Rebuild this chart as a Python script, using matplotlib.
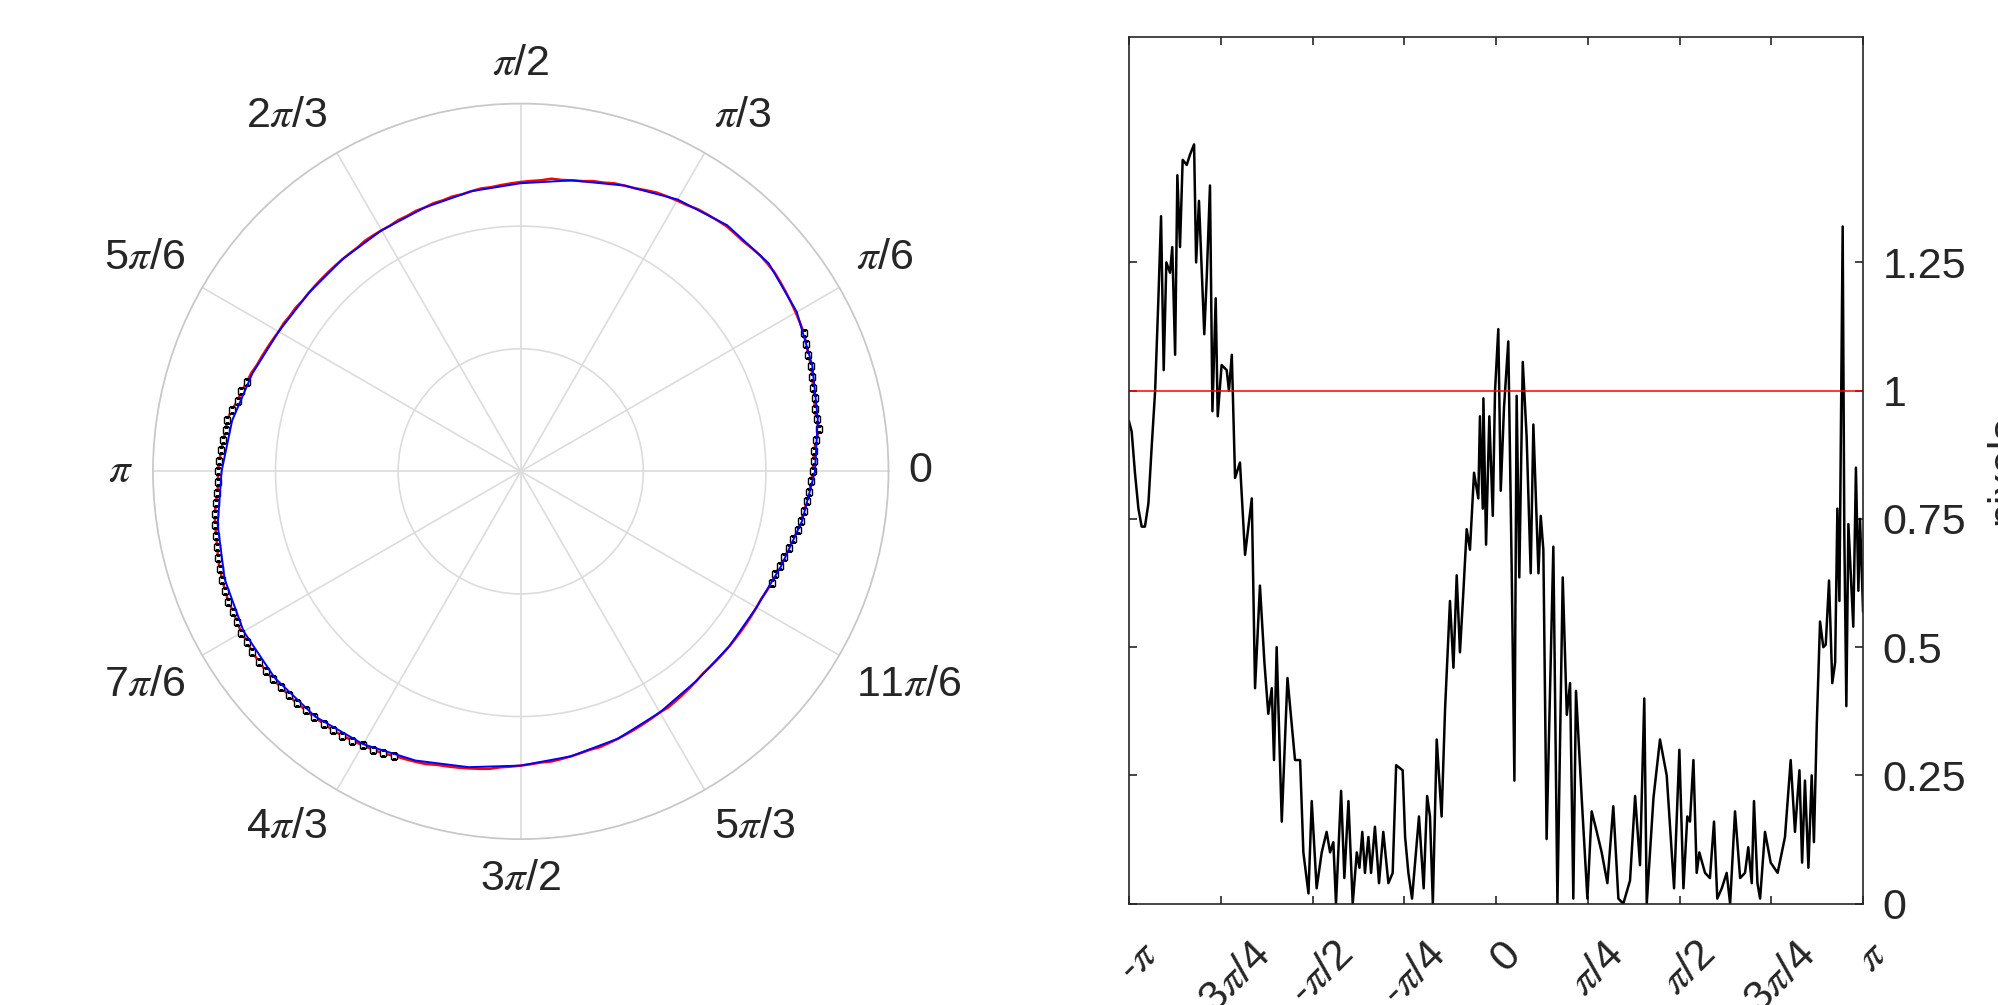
import numpy as np
import matplotlib
matplotlib.use('Agg')
import matplotlib.pyplot as plt
from matplotlib.transforms import offset_copy, blended_transform_factory

plt.rcParams['font.family'] = ['Liberation Sans', 'DejaVu Sans']
plt.rcParams['mathtext.fontset'] = 'stix'

# ---------------- polar data (radius units: outer ring = 3) ----------------
polar_theta_deg = list(range(0, 360, 2))
polar_r_data = [
    2.38, 2.39, 2.40, 2.42, 2.46, 2.45, 2.45, 2.47, 2.48, 2.50,
    2.52, 2.53, 2.55, 2.57, 2.58, 2.59, 2.60, 2.61, 2.62, 2.63,
    2.63, 2.63, 2.62, 2.61, 2.61, 2.61, 2.60, 2.59, 2.58, 2.56,
    2.55, 2.54, 2.53, 2.51, 2.49, 2.48, 2.47, 2.45, 2.44, 2.42,
    2.41, 2.40, 2.40, 2.38, 2.37, 2.36, 2.35, 2.34, 2.33, 2.33,
    2.32, 2.31, 2.31, 2.30, 2.30, 2.29, 2.29, 2.28, 2.28, 2.27,
    2.27, 2.27, 2.27, 2.26, 2.26, 2.26, 2.26, 2.26, 2.26, 2.26,
    2.26, 2.26, 2.27, 2.27, 2.28, 2.28, 2.29, 2.30, 2.31, 2.32,
    2.34, 2.35, 2.37, 2.38, 2.41, 2.43, 2.43, 2.44, 2.45, 2.46,
    2.47, 2.47, 2.48, 2.50, 2.52, 2.53, 2.54, 2.55, 2.57, 2.58,
    2.59, 2.60, 2.61, 2.61, 2.62, 2.63, 2.63, 2.64, 2.64, 2.64,
    2.64, 2.63, 2.63, 2.63, 2.62, 2.62, 2.61, 2.61, 2.60, 2.59,
    2.58, 2.57, 2.56, 2.54, 2.53, 2.52, 2.51, 2.49, 2.48, 2.47,
    2.46, 2.45, 2.44, 2.42, 2.41, 2.40, 2.39, 2.38, 2.38, 2.37,
    2.36, 2.35, 2.34, 2.34, 2.33, 2.32, 2.31, 2.30, 2.29, 2.28,
    2.27, 2.27, 2.26, 2.25, 2.24, 2.23, 2.22, 2.22, 2.22, 2.22,
    2.22, 2.22, 2.22, 2.22, 2.22, 2.22, 2.22, 2.23, 2.24, 2.24,
    2.25, 2.26, 2.28, 2.29, 2.31, 2.32, 2.33, 2.35, 2.36, 2.37,
]
fit_theta_deg = list(range(0, 370, 10))
fit_r = [2.40, 2.46, 2.53, 2.60, 2.64, 2.62, 2.56, 2.48, 2.41, 2.35,
         2.32, 2.29, 2.27, 2.26, 2.26, 2.28, 2.33, 2.39, 2.44, 2.51,
         2.57, 2.61, 2.62, 2.61, 2.57, 2.51, 2.45, 2.40, 2.36, 2.32,
         2.27, 2.23, 2.22, 2.22, 2.26, 2.33, 2.40]
marker_ranges_deg = [(162, 246), (336, 360), (0, 26)]
polar_tick_deg = list(range(0, 360, 30))
polar_tick_labels = ['0', r'$\pi$/6', r'$\pi$/3', r'$\pi$/2', r'2$\pi$/3', r'5$\pi$/6',
                     r'$\pi$', r'7$\pi$/6', r'4$\pi$/3', r'3$\pi$/2', r'5$\pi$/3', r'11$\pi$/6']

# ---------------- deviation profile ----------------
dev_theta_deg = [
    -180.0, -178.7, -177.1, -175.4, -173.8, -172.2, -170.5, -168.9, -167.2, -165.6,
    -164.3, -163.0, -161.7, -159.9, -158.8, -157.4, -156.3, -155.0, -153.7, -151.7,
    -150.1, -148.1, -147.1, -145.7, -143.1, -141.9, -140.3, -139.1, -137.5, -136.5,
    -134.6, -132.1, -131.0, -129.6, -128.0, -125.6, -123.1, -119.8, -118.2, -115.8,
    -113.6, -111.7, -110.0, -108.9, -107.6, -105.1, -102.3, -98.6, -96.1, -94.5,
    -92.0, -90.4, -88.0, -85.5, -83.1, -81.4, -79.8, -78.5, -76.0, -74.4,
    -72.4, -70.3, -68.3, -67.0, -65.6, -64.3, -62.6, -61.3, -59.4, -57.4,
    -55.3, -52.8, -50.7, -49.0, -45.8, -44.6, -43.0, -41.2, -37.8, -35.5,
    -33.8, -32.4, -31.0, -29.1, -26.7, -25.0, -22.6, -20.9, -19.3, -17.7,
    -16.0, -14.4, -12.8, -10.8, -8.7, -7.9, -6.5, -6.2, -4.9, -3.3,
    -1.6, -0.5, 1.1, 2.3, 3.9, 6.0, 7.7, 9.0, 10.1, 11.4,
    13.1, 15.0, 17.0, 18.3, 20.8, 21.9, 23.2, 24.8, 28.1, 30.1,
    32.7, 34.7, 36.3, 37.9, 39.2, 42.0, 44.8, 46.9, 49.4, 51.8,
    54.6, 57.5, 60.0, 62.4, 65.7, 68.2, 70.6, 72.7, 73.9, 77.2,
    80.4, 83.7, 87.3, 89.9, 91.9, 93.8, 95.1, 96.8, 98.4, 99.7,
    102.5, 104.9, 106.9, 108.5, 110.7, 113.1, 114.8, 117.2, 119.7, 122.1,
    123.7, 125.4, 126.5, 128.2, 129.5, 131.9, 134.7, 138.1, 141.7, 144.5,
    146.6, 148.8, 150.1, 151.5, 153.2, 154.8, 155.9, 157.3, 158.9, 160.5,
    161.7, 163.3, 164.9, 166.3, 167.4, 168.4, 170.0, 170.8, 171.8, 172.8,
    173.9, 175.2, 176.5, 177.7, 178.5, 180.0,
]
dev_value = [
    0.94, 0.92, 0.84, 0.77, 0.735, 0.735, 0.78, 0.89, 1.00, 1.18,
    1.34, 1.04, 1.25, 1.23, 1.28, 1.07, 1.42, 1.28, 1.45, 1.44,
    1.46, 1.48, 1.25, 1.37, 1.11, 1.22, 1.40, 0.96, 1.18, 0.95,
    1.05, 1.04, 1.00, 1.07, 0.83, 0.86, 0.68, 0.79, 0.42, 0.62,
    0.47, 0.37, 0.42, 0.28, 0.50, 0.16, 0.44, 0.28, 0.28, 0.10,
    0.02, 0.20, 0.03, 0.10, 0.14, 0.10, 0.12, 0.00, 0.22, 0.05,
    0.20, 0.00, 0.10, 0.07, 0.14, 0.06, 0.13, 0.06, 0.15, 0.04,
    0.14, 0.04, 0.06, 0.27, 0.26, 0.13, 0.06, 0.01, 0.17, 0.03,
    0.21, 0.17, 0.00, 0.32, 0.17, 0.38, 0.59, 0.46, 0.64, 0.49,
    0.61, 0.73, 0.69, 0.84, 0.79, 0.95, 0.77, 0.985, 0.70, 0.95,
    0.756, 1.00, 1.12, 0.805, 0.967, 1.096, 0.644, 0.24, 0.99, 0.636,
    1.056, 0.91, 0.644, 0.934, 0.644, 0.756, 0.69, 0.126, 0.696, 0.00,
    0.636, 0.368, 0.43, 0.01, 0.415, 0.206, 0.01, 0.18, 0.14, 0.10,
    0.04, 0.19, 0.01, 0.00, 0.045, 0.21, 0.075, 0.40, 0.00, 0.206,
    0.32, 0.25, 0.03, 0.30, 0.03, 0.17, 0.16, 0.28, 0.06, 0.10,
    0.06, 0.05, 0.16, 0.01, 0.03, 0.06, 0.00, 0.18, 0.05, 0.06,
    0.11, 0.04, 0.20, 0.04, 0.01, 0.14, 0.08, 0.06, 0.13, 0.28,
    0.14, 0.26, 0.08, 0.24, 0.07, 0.25, 0.12, 0.35, 0.55, 0.50,
    0.505, 0.63, 0.43, 0.47, 0.77, 0.59, 1.32, 0.72, 0.385, 0.74,
    0.65, 0.54, 0.85, 0.61, 0.75, 0.57,
]
threshold_value = 1.0
x_tick_labels = [r'-$\pi$', r'-3$\pi$/4', r'-$\pi$/2', r'-$\pi$/4', '0',
                 r'$\pi$/4', r'$\pi$/2', r'3$\pi$/4', r'$\pi$']
y_ticks = [0, 0.25, 0.5, 0.75, 1, 1.25]
y_tick_labels = ['0', '0.25', '0.5', '0.75', '1', '1.25']
y_label = 'pixels'

TXT = '#262626'
FS = 15.5

fig = plt.figure(figsize=(19.99 / 2, 10.05 / 2), dpi=200)

# ---------------- polar plot ----------------
ax1 = fig.add_axes([0.0765, 0.165, 0.368, 0.732], projection='polar')
th = np.deg2rad(polar_theta_deg + [polar_theta_deg[0] + 360])
rr = polar_r_data + [polar_r_data[0]]
ax1.plot(th, rr, color='red', lw=0.9, zorder=3)
mt, mr = [], []
for t, r in zip(polar_theta_deg, polar_r_data):
    if any(lo <= t <= hi for lo, hi in marker_ranges_deg):
        mt.append(np.deg2rad(t))
        mr.append(r)
ax1.plot(mt, mr, 's', ms=2.3, mfc='white', mec='black', mew=0.5, zorder=4)
ax1.plot(np.deg2rad(fit_theta_deg), fit_r, color='blue', lw=0.7, zorder=5)
rmax = 3
ax1.set_ylim(0, rmax)
ax1.set_yticks([1, 2, 3])
ax1.set_yticklabels([])
ax1.set_xticks(np.deg2rad(polar_tick_deg))
ax1.set_xticklabels([])
ax1.grid(True, color='#dcdcdc', lw=0.6)
ax1.spines['polar'].set_color('#c8c8c8')
ax1.spines['polar'].set_linewidth(0.6)
gap_pt = 7.0
for deg, lab in zip(polar_tick_deg, polar_tick_labels):
    a = np.deg2rad(deg)
    c, s = np.cos(a), np.sin(a)
    ha = 'left' if c > 0.1 else ('right' if c < -0.1 else 'center')
    va = 'bottom' if s > 0.1 else ('top' if s < -0.1 else 'center')
    tr = offset_copy(ax1.transData, fig=fig, x=gap_pt * c, y=gap_pt * s, units='points')
    ax1.text(a, rmax, lab, transform=tr, ha=ha, va=va, fontsize=FS, color=TXT,
             clip_on=False)

# ---------------- profile plot ----------------
ax2 = fig.add_axes([0.5648, 0.1008, 0.3672, 0.8627])
ax2.plot(np.deg2rad(dev_theta_deg), dev_value, color='black', lw=0.9)
ax2.axhline(threshold_value, color='red', lw=0.55)
ax2.set_xlim(-np.pi, np.pi)
ax2.set_ylim(0, 1.69)
x_ticks = np.linspace(-np.pi, np.pi, 9)
ax2.set_xticks(x_ticks)
ax2.set_xticklabels([])
blend = blended_transform_factory(ax2.transData, ax2.transAxes)
lab_tr = offset_copy(blend, fig=fig, x=3.5, y=-11, units='points')
for xv, lab in zip(x_ticks, x_tick_labels):
    ax2.text(xv, 0, lab, transform=lab_tr, rotation=45, ha='center', va='top',
             fontsize=FS, color=TXT, clip_on=False)
ax2.set_yticks(y_ticks)
ax2.set_yticklabels(y_tick_labels, fontsize=FS, color=TXT)
ax2.yaxis.tick_right()
ax2.tick_params(direction='in', length=3, width=0.6, colors=TXT,
                top=True, bottom=True, left=True, right=True,
                labelleft=False, labelright=True)
ax2.tick_params(axis='y', pad=7)
for s in ax2.spines.values():
    s.set_color(TXT)
    s.set_linewidth(0.6)
ax2.yaxis.set_label_position('right')
ax2.set_ylabel(y_label, fontsize=FS, color=TXT, labelpad=7)

fig.savefig('out.png', dpi=200)
